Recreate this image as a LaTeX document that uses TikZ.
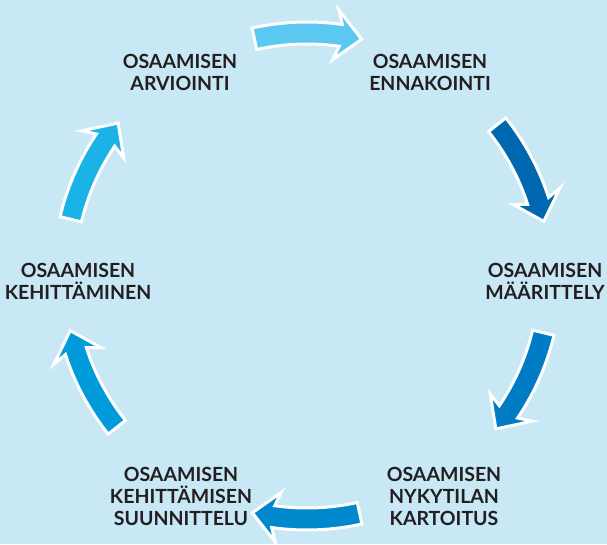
\documentclass[tikz,border=0pt]{standalone}
\usepackage{fontspec}
\setmainfont{Lato}
\definecolor{backdrop}{HTML}{C8E8F6}
\definecolor{ink}{HTML}{231F20}
\definecolor{arrowA}{HTML}{5AC8F0}
\definecolor{arrowB}{HTML}{0068B0}
\definecolor{arrowC}{HTML}{007CC4}
\definecolor{arrowD}{HTML}{0088CC}
\definecolor{arrowE}{HTML}{009BDA}
\definecolor{arrowF}{HTML}{1BB2E8}
\begin{document}
\begin{tikzpicture}[x=1pt,y=1pt,
    phase/.style={font=\bfseries\fontsize{19.5}{22}\selectfont, text=ink, align=center, inner sep=0pt},
    bend/.style={fill=#1, draw=white, line width=3, line join=miter}]
  \useasboundingbox[fill=backdrop] (0,0) rectangle (607,544);
  \coordinate (c) at (307,268);
  % six curved arrows round the circle
  \foreach \m/\col in {90/arrowA,26/arrowB,-26/arrowC,-90/arrowD,-154/arrowE,154/arrowF}{
    \pgfmathsetmacro\tail{\m+12.5}
    \pgfmathsetmacro\base{\m-8}
    \pgfmathsetmacro\tip{\m-13}
    \draw[bend=\col] ([shift={(c)}]\tail:254) arc[start angle=\tail, end angle=\base, radius=254]
      -- ([shift={(c)}]\base+1.2:268) -- ([shift={(c)}]\tip:243) -- ([shift={(c)}]\base+1.2:218)
      -- ([shift={(c)}]\base:232) arc[start angle=\base, end angle=\tail, radius=232] -- cycle;
  }
  % labels
  \node[phase] (arvio)  at (180,472) {OSAAMISEN\\ARVIOINTI};
  \node[phase] (ennak)  at (430,472) {OSAAMISEN\\ENNAKOINTI};
  \node[phase, anchor=east] (maar) at (605,263) {OSAAMISEN\\MÄÄRITTELY};
  \node[phase] (kartt)  at (444,48)  {OSAAMISEN\\NYKYTILAN\\KARTOITUS};
  \node[phase] (suunn)  at (181,48)  {OSAAMISEN\\KEHITTÄMISEN\\SUUNNITTELU};
  \node[phase] (kehit)  at (78,263)  {OSAAMISEN\\KEHITTÄMINEN};
\end{tikzpicture}
\end{document}
